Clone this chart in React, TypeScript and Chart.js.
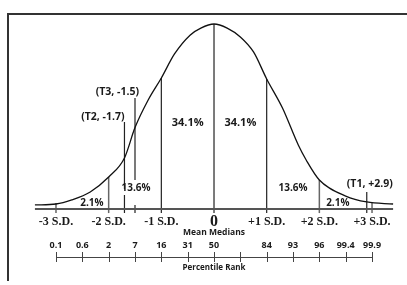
import React, { useEffect, useRef } from 'react';
import { Chart, registerables } from 'chart.js';
Chart.register(...registerables);

// Bell curve (x in S.D. units, height relative to peak)
const curveSD = [-3.4, -3.0, -2.7, -2.35, -2.0, -1.7, -1.5, -1.25, -1.0, -0.75, -0.45, -0.25, 0, 0.25, 0.5, 0.75, 1.0, 1.3, 1.6, 1.75, 2.0, 2.5, 2.9, 3.4];
const curveHeight = [0.022, 0.027, 0.049, 0.092, 0.173, 0.276, 0.44, 0.589, 0.708, 0.838, 0.941, 0.978, 1.0, 0.978, 0.93, 0.849, 0.703, 0.546, 0.346, 0.265, 0.157, 0.07, 0.038, 0.027];

// Standard deviation marks
const sdValues = [-3, -2, -1, 0, 1, 2, 3];
const sdLabels = ['-3 S.D.', '-2 S.D.', '-1 S.D.', '0', '+1 S.D.', '+2 S.D.', '+3 S.D.'];
const sdLineTops = [0.032, 0.173, 0.708, 1.0, 0.703, 0.157, 0.032];

// Area percentages between marks
const areaLabels = ['2.1%', '13.6%', '34.1%', '34.1%', '13.6%', '2.1%'];
const areaCenters = [-2.32, -1.48, -0.5, 0.5, 1.5, 2.35];

// Student markers
const markerLabels = ['(T1, +2.9)', '(T2, -1.7)', '(T3, -1.5)'];
const markerValues = [2.9, -1.7, -1.5];
const markerTops = [0.092, 0.47, 0.6];
const markerBreakTop = [null, 0.108, 0.157];
const markerBreakBottom = [null, 0.076, 0.022];

// Percentile rank axis
const percentileSD = [-3, -2.5, -2, -1.5, -1, -0.5, 0, 0.5, 1, 1.5, 2, 2.5, 3];
const percentileLabels = ['0.1', '0.6', '2', '7', '16', '31', '50', '', '84', '93', '96', '99.4', '99.9'];

const BELOW = -0.022;
const SANS = '"Open Sans", Lato, sans-serif';
const SERIF = '"Liberation Serif", serif';

const labelPlugin = {
  id: 'bellLabels',
  afterDatasetsDraw(chart: any) {
    const { ctx, scales } = chart;
    const xs = scales.x;
    const ys = scales.y;
    const base = ys.getPixelForValue(0);
    const px = (v: number) => xs.getPixelForValue(v);
    ctx.save();
    ctx.fillStyle = '#1a1a1a';
    ctx.textBaseline = 'middle';
    const text = (s: string, x: number, y: number, font: string, align = 'center') => {
      ctx.font = font;
      ctx.textAlign = align;
      ctx.fillText(s, x, y);
    };
    // S.D. labels
    sdLabels.forEach((s, i) => {
      if (s === '0') text(s, px(sdValues[i]), base + 13, `bold 16px ${SERIF}`);
      else text(s, px(sdValues[i]), base + 13, `bold 12px ${SERIF}`);
    });
    text('Mean Medians', px(0), base + 24, `bold 8.5px ${SANS}`);
    // area labels
    areaLabels.forEach((s, i) => {
      const big = s === '34.1%';
      const off = big ? -86 : s === '13.6%' ? -21 : -6;
      text(s, px(areaCenters[i]), base + off, `bold ${big ? 11 : 10}px ${SANS}`);
    });
    // marker labels
    text(markerLabels[0], px(markerValues[0]) + 3, base - 25, `bold 10.5px ${SANS}`);
    text(markerLabels[1], px(markerValues[1]) + 0, base - 92, `bold 10.5px ${SANS}`, 'right');
    text(markerLabels[2], px(markerValues[2]) + 4, base - 117, `bold 10.5px ${SANS}`, 'right');
    // percentile axis
    const ay = base + 48;
    ctx.strokeStyle = '#444';
    ctx.lineWidth = 1;
    ctx.beginPath();
    ctx.moveTo(px(percentileSD[0]), ay + 0.5);
    ctx.lineTo(px(percentileSD[percentileSD.length - 1]), ay + 0.5);
    percentileSD.forEach((v) => {
      const x = Math.round(px(v)) + 0.5;
      ctx.moveTo(x, ay - 5);
      ctx.lineTo(x, ay + 5);
    });
    ctx.stroke();
    percentileLabels.forEach((s, i) => {
      if (s) text(s, px(percentileSD[i]), base + 36, `bold 9px ${SANS}`);
    });
    text('Percentile Rank', px(0), base + 59, `bold 8px ${SANS}`);
    ctx.restore();
  },
};

export default function App() {
  const ref = useRef<HTMLCanvasElement | null>(null);
  useEffect(() => {
    const canvas = ref.current;
    if (!canvas) return;
    const datasets: any[] = [];
    datasets.push({
      data: curveSD.map((x, i) => ({ x, y: curveHeight[i] })),
      borderColor: '#111',
      borderWidth: 1.3,
      cubicInterpolationMode: 'monotone',
    });
    datasets.push({
      data: [{ x: curveSD[0], y: 0 }, { x: curveSD[curveSD.length - 1], y: 0 }],
      borderColor: '#555',
      borderWidth: 2,
    });
    sdValues.forEach((v, i) => {
      const gray = Math.abs(v) >= 2;
      datasets.push({
        data: [{ x: v, y: BELOW }, { x: v, y: sdLineTops[i] }],
        borderColor: gray ? '#666' : '#222',
        borderWidth: gray ? 1.5 : 1.2,
      });
    });
    markerValues.forEach((v, i) => {
      const pts: any[] = [{ x: v, y: BELOW }];
      if (markerBreakTop[i] !== null) {
        pts.push({ x: v, y: markerBreakBottom[i] });
        pts.push({ x: v, y: null });
        pts.push({ x: v, y: markerBreakTop[i] });
      }
      pts.push({ x: v, y: markerTops[i] });
      datasets.push({ data: pts, borderColor: '#222', borderWidth: 1.2, spanGaps: false });
    });
    const chart = new Chart(canvas, {
      type: 'scatter',
      data: { datasets: datasets.map((d) => ({ showLine: true, pointRadius: 0, fill: false, ...d })) },
      options: {
        animation: false,
        responsive: false,
        devicePixelRatio: 1,
        layout: { padding: 0 },
        plugins: { legend: { display: false }, tooltip: { enabled: false } },
        scales: {
          x: { type: 'linear', min: -4.063, max: 3.664, display: false },
          y: { type: 'linear', min: -0.4108, max: 1.1297, display: false },
        },
      },
      plugins: [labelPlugin],
    } as any);
    return () => chart.destroy();
  }, []);
  return (
    <div style={{ position: 'fixed', left: 0, top: 0, width: 407, height: 285, background: '#fff' }}>
      <div
        style={{
          position: 'absolute',
          left: 7,
          top: 13,
          width: 400,
          height: 268,
          borderLeft: '2px solid #333',
          borderTop: '2px solid #333',
          boxSizing: 'border-box',
        }}
      />
      <canvas ref={ref} width={407} height={285} style={{ position: 'absolute', left: 0, top: 0, width: 407, height: 285 }} />
    </div>
  );
}
